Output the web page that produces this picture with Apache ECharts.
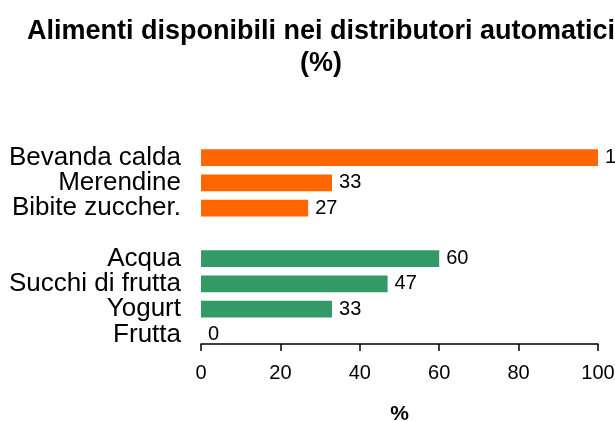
<!DOCTYPE html>
<html>
<head>
<meta charset="utf-8">
<script src="https://cdn.jsdelivr.net/npm/echarts@6/dist/echarts.min.js"></script>
<style>
  html, body { margin: 0; padding: 0; background: #fff; }
  #main { width: 615px; height: 421px; }
</style>
</head>
<body>
<div id="main"></div>
<script>
// categories top to bottom, '' is the gap between the two groups
var categories = ['Bevanda calda', 'Merendine', 'Bibite zuccher.', '', 'Acqua', 'Succhi di frutta', 'Yogurt', 'Frutta'];
var values = [100, 33, 27, null, 60, 47, 33, 0];
var groups = ['o', 'o', 'o', null, 'g', 'g', 'g', 'g'];
var xTicks = [0, 20, 40, 60, 80, 100];

var colors = { o: '#FF6600', g: '#339966' };

var chart = echarts.init(document.getElementById('main'));

var option = {
  backgroundColor: '#fff',
  animation: false,
  title: {
    text: 'Alimenti disponibili nei distributori automatici\n(%)',
    left: 316,
    top: 11,
    textAlign: 'center',
    textStyle: {
      fontFamily: 'Liberation Sans',
      fontSize: 27,
      fontWeight: 'bold',
      color: '#000',
      lineHeight: 32
    }
  },
  grid: {
    left: 201,
    right: 17,
    top: 145,
    bottom: 74,
    outerBoundsMode: 'none'
  },
  xAxis: {
    type: 'value',
    min: xTicks[0],
    max: xTicks[xTicks.length - 1],
    interval: 20,
    offset: -3,
    name: '%',
    nameLocation: 'middle',
    nameGap: 60,
    nameTextStyle: { fontFamily: 'Liberation Sans', fontSize: 21, fontWeight: 'bold', color: '#000' },
    axisLine: { show: true, lineStyle: { color: '#000', width: 1.5 } },
    axisTick: { show: true, length: 7, lineStyle: { color: '#000', width: 1.5 } },
    axisLabel: { fontFamily: 'Liberation Sans', fontSize: 20, color: '#000', margin: 19 },
    splitLine: { show: false }
  },
  yAxis: {
    type: 'category',
    data: categories,
    inverse: true,
    axisLine: { show: false },
    axisTick: { show: false },
    axisLabel: { fontFamily: 'Liberation Sans', fontSize: 26, color: '#000', margin: 20, interval: 0, lineHeight: 26 }
  },
  series: [{
    type: 'bar',
    barCategoryGap: '34%',
    data: values.map(function (v, i) {
      return {
        value: v,
        itemStyle: { color: groups[i] ? colors[groups[i]] : 'transparent' }
      };
    }),
    label: {
      show: true,
      position: 'right',
      distance: 7,
      fontFamily: 'Liberation Sans',
      fontSize: 20,
      color: '#000'
    }
  }]
};

chart.setOption(option);
</script>
</body>
</html>
